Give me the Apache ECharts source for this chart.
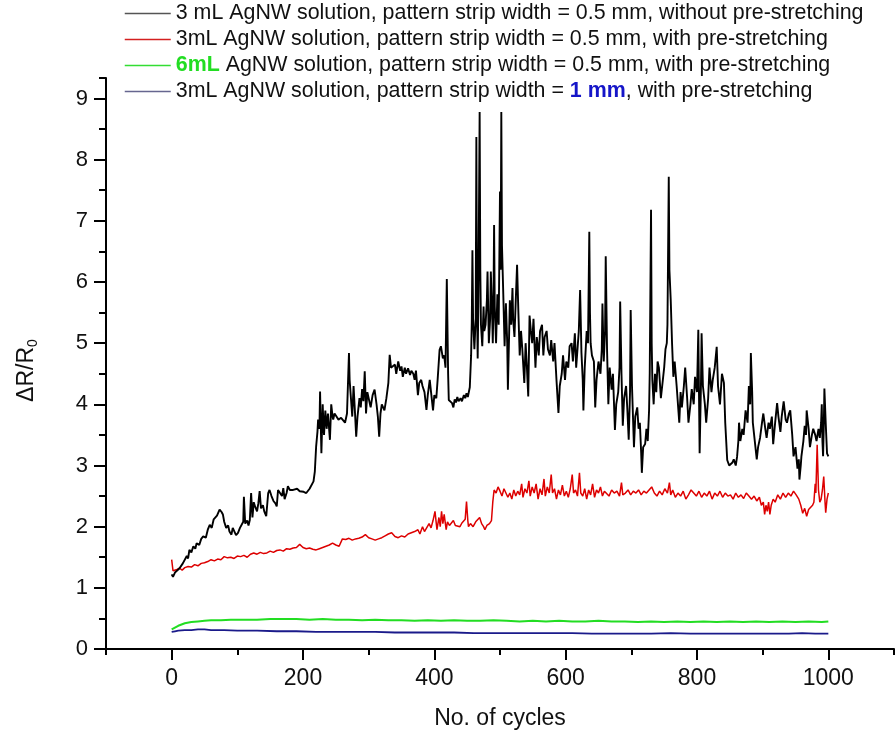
<!DOCTYPE html>
<html><head><meta charset="utf-8">
<script src="https://cdn.jsdelivr.net/npm/echarts@6/dist/echarts.min.js"></script>
<style>html,body{margin:0;padding:0;background:#fff}#c{width:896px;height:742px}</style>
</head><body><div id="c"></div>
<script>
// ---------- data ----------
const xTickValues = [0, 200, 400, 600, 800, 1000];
const xMinorTicks = [-100, 100, 300, 500, 700, 900, 1100];
const yTickValues = [0, 1, 2, 3, 4, 5, 6, 7, 8, 9];
const yMinorTicks = [0.5, 1.5, 2.5, 3.5, 4.5, 5.5, 6.5, 7.5, 8.5, 9.335];
const seriesNames = ['s1', 's2', 's3', 's4'];

const blackCycles = [0,2,5,8,12,15,17,20,23,25,27,30,33,36,38,42,45,48,52,55,58,61,64,66,69,71,73,76,78,80,83,86,88,91,93,95,98,101,104,107,109,110,112,115,117,119,121,123,125,127,130,132,134,136,139,141,144,147,149,152,155,158,160,162,165,168,170,172,175,177,180,183,185,188,191,195,198,201,205,208,210,213,216,218,220,222,223,225,226,228,230,231,232,234,236,238,241,243,245,246,248,251,254,258,261,264,267,270,271,273,275,277,279,281,283,286,288,290,292,294,296,298,301,303,306,309,312,314,316,318,320,322,324,327,330,332,334,337,340,342,345,348,350,352,355,357,360,363,365,368,370,372,375,377,380,382,385,388,390,393,395,398,400,403,405,408,410,413,415,417,419,421,422,425,427,429,431,433,435,437,440,442,445,447,449,451,454,456,457,458,459,461,463,464,465,466,467,469,470,471,473,475,476,478,480,481,483,485,486,488,489,490,491,492,494,496,498,500,501,502,503,505,507,509,511,512,514,515,517,519,520,522,524,526,528,530,532,534,537,539,541,543,545,547,549,551,554,556,559,561,564,566,568,571,573,576,578,581,583,586,589,591,594,596,599,601,604,606,609,611,614,616,618,620,622,624,626,627,629,632,634,636,637,638,640,643,645,647,650,653,655,656,658,660,661,663,665,667,670,672,675,677,680,682,683,685,687,689,692,694,696,698,699,701,704,706,709,711,713,715,716,718,721,723,725,727,728,730,731,732,734,736,738,740,742,745,747,750,752,754,755,757,758,760,762,764,766,769,771,773,775,777,780,782,785,787,790,792,795,797,800,802,803,804,806,807,809,812,814,817,819,822,824,827,830,832,835,838,841,843,846,849,851,854,856,859,861,863,864,866,869,871,874,877,879,881,882,884,885,888,891,893,896,899,901,904,906,909,911,914,916,919,922,924,927,929,932,935,937,940,942,945,947,950,953,955,956,958,959,962,964,966,967,970,972,975,977,980,982,985,987,989,990,991,992,993,994,996,998,1000];
const blackValues = [1.22,1.18,1.25,1.22,1.32,1.30,1.40,1.38,1.52,1.48,1.62,1.58,1.68,1.64,1.73,1.70,1.80,1.84,1.82,1.95,2.03,1.98,2.12,2.11,2.18,2.15,2.28,2.24,2.20,2.08,1.98,2.02,1.92,1.87,1.98,1.95,1.86,1.90,1.98,1.95,2.08,2.49,2.05,2.10,2.02,2.11,2.55,2.15,2.40,2.33,2.25,2.38,2.58,2.30,2.35,2.25,2.17,2.55,2.60,2.50,2.42,2.38,2.33,2.60,2.55,2.50,2.63,2.45,2.55,2.66,2.60,2.62,2.60,2.57,2.62,2.58,2.60,2.57,2.55,2.58,2.62,2.65,2.74,2.90,3.31,3.55,3.75,3.60,4.21,3.20,4.00,3.70,3.50,3.90,3.60,3.85,3.42,4.00,3.80,3.75,3.85,3.80,3.75,3.78,3.75,3.70,3.85,4.84,4.40,4.10,3.80,4.30,3.90,3.47,3.80,4.10,3.95,4.25,4.05,4.54,3.85,4.20,4.05,3.95,4.15,4.24,4.00,3.80,3.47,3.85,4.00,3.95,3.90,4.10,4.35,4.81,4.60,4.60,4.65,4.50,4.70,4.55,4.62,4.45,4.60,4.50,4.59,4.48,4.55,4.50,4.40,4.55,4.15,4.35,4.40,4.30,4.20,3.91,4.15,4.40,4.20,3.90,4.15,4.10,4.40,4.89,4.95,4.75,4.80,4.60,6.05,4.50,4.07,4.10,4.02,3.95,4.08,4.03,4.12,4.05,4.10,4.05,4.15,4.10,4.18,4.12,4.28,4.80,5.33,6.52,5.40,4.90,5.40,8.37,5.60,4.75,5.60,8.78,6.20,5.30,4.95,5.60,5.20,5.30,5.70,6.17,5.00,5.40,6.17,5.50,5.00,5.60,6.93,5.60,5.00,5.80,5.30,7.48,6.20,8.78,6.60,5.80,4.95,5.65,5.00,4.24,5.20,5.70,5.30,5.90,5.40,5.10,5.70,6.28,5.50,4.80,5.20,4.90,4.35,5.00,4.60,4.13,5.45,5.20,5.00,5.40,4.60,5.10,4.80,5.20,5.30,4.80,5.10,5.20,4.90,4.80,5.05,4.70,5.00,4.40,3.86,4.30,4.50,4.80,4.40,4.70,4.60,4.95,5.00,4.70,5.16,4.60,4.90,5.20,5.87,4.85,4.40,3.90,4.60,5.20,5.00,6.82,5.50,5.00,4.80,4.70,3.95,4.40,4.70,4.50,4.90,5.65,4.70,5.20,6.42,4.90,4.00,4.60,4.24,4.50,3.58,4.00,4.20,4.60,5.68,4.50,3.65,4.10,4.30,3.90,3.42,4.20,5.54,4.30,3.30,3.80,3.95,3.60,3.70,3.20,2.88,3.30,3.35,3.60,3.40,3.90,4.50,7.18,5.00,4.40,4.00,4.50,4.20,4.70,4.60,4.10,4.30,4.60,4.90,5.00,5.30,7.72,6.20,5.70,5.00,4.45,4.70,4.30,4.00,3.70,4.20,3.95,4.30,4.60,4.10,3.70,4.00,4.25,4.00,4.45,4.20,5.22,4.20,3.20,4.30,5.16,4.30,4.00,3.70,4.10,4.60,4.20,4.40,4.60,4.94,4.30,4.00,4.50,4.35,3.70,3.09,3.00,2.97,3.05,3.10,3.00,3.14,3.40,3.70,3.40,3.60,3.50,3.90,3.70,4.30,4.00,4.84,4.20,3.70,3.40,3.10,3.30,3.45,3.70,3.85,3.60,3.45,3.70,3.60,3.80,3.35,3.70,4.02,3.80,3.55,3.80,4.05,3.75,3.70,3.85,3.90,3.50,3.15,3.30,2.95,3.10,2.77,3.00,3.15,3.40,3.65,3.50,3.90,3.60,3.30,3.50,3.60,3.50,3.40,3.60,3.45,3.70,4.00,3.40,3.15,3.60,4.26,3.70,3.20,3.15];

const redCycles = [0,2,5,8,12,16,20,25,30,35,40,45,50,55,60,65,70,75,80,85,90,95,100,105,110,115,120,125,130,135,140,145,150,155,160,165,170,175,180,185,190,195,200,205,210,215,220,225,230,235,240,245,250,255,260,265,270,275,280,285,290,295,300,305,310,315,320,325,330,335,340,345,350,355,360,365,370,375,378,382,385,388,392,395,398,401,403,404,407,409,411,413,415,418,420,423,426,429,432,435,439,442,445,447,449,451,452,455,459,463,466,469,472,475,477,480,484,487,489,491,494,497,500,503,506,509,512,515,518,521,524,527,530,533,535,538,541,544,546,549,552,555,558,561,564,567,569,572,575,578,580,583,586,589,592,595,598,601,604,607,610,612,615,618,621,623,626,629,632,635,638,641,644,647,650,653,656,659,662,666,670,674,678,682,685,687,691,695,699,703,707,711,715,719,723,727,731,735,739,743,747,751,755,758,760,763,767,771,775,779,783,787,791,795,799,803,807,811,815,819,823,827,831,835,839,843,847,851,855,859,863,867,871,875,879,883,887,891,895,898,901,903,905,907,909,911,913,916,919,923,927,931,935,939,943,947,951,955,958,961,964,967,970,973,976,978,980,981,983,985,987,989,991,993,995,996,998,1000];
const redValues = [1.46,1.28,1.25,1.30,1.32,1.29,1.33,1.35,1.34,1.38,1.36,1.40,1.41,1.43,1.46,1.44,1.47,1.46,1.51,1.49,1.50,1.48,1.52,1.51,1.53,1.50,1.55,1.57,1.55,1.58,1.56,1.57,1.60,1.58,1.61,1.62,1.60,1.64,1.63,1.65,1.66,1.71,1.66,1.64,1.65,1.63,1.62,1.64,1.66,1.68,1.70,1.73,1.70,1.68,1.80,1.79,1.81,1.78,1.80,1.81,1.83,1.87,1.82,1.80,1.78,1.80,1.82,1.85,1.88,1.90,1.84,1.82,1.85,1.83,1.88,1.90,1.92,1.95,1.88,2.00,1.92,1.95,2.05,1.98,2.10,2.25,2.05,1.95,2.15,2.00,2.25,2.05,2.20,1.95,2.08,2.02,2.05,2.10,2.02,2.05,2.00,2.06,2.03,2.12,2.41,2.10,2.00,2.05,2.00,2.08,2.05,2.15,2.05,2.00,1.95,2.02,2.05,2.10,2.40,2.60,2.55,2.65,2.58,2.50,2.62,2.55,2.48,2.55,2.45,2.60,2.50,2.58,2.52,2.70,2.48,2.62,2.55,2.75,2.50,2.65,2.55,2.70,2.45,2.62,2.52,2.78,2.50,2.65,2.55,2.85,2.55,2.62,2.45,2.60,2.52,2.68,2.50,2.58,2.48,2.62,2.85,2.55,2.60,2.50,2.88,2.55,2.50,2.62,2.45,2.60,2.52,2.70,2.48,2.60,2.55,2.65,2.50,2.58,2.55,2.50,2.60,2.55,2.58,2.50,2.72,2.52,2.55,2.60,2.52,2.58,2.55,2.60,2.52,2.58,2.55,2.60,2.65,2.55,2.50,2.58,2.52,2.62,2.55,2.72,2.52,2.60,2.48,2.55,2.50,2.58,2.45,2.52,2.60,2.55,2.50,2.58,2.48,2.55,2.50,2.58,2.45,2.55,2.50,2.58,2.48,2.55,2.50,2.52,2.45,2.55,2.48,2.52,2.46,2.55,2.50,2.45,2.50,2.42,2.48,2.35,2.40,2.20,2.35,2.25,2.40,2.20,2.35,2.45,2.40,2.52,2.45,2.55,2.48,2.55,2.50,2.58,2.52,2.45,2.35,2.22,2.30,2.17,2.28,2.30,2.35,2.40,2.70,2.55,3.34,2.60,2.40,2.45,2.60,2.82,2.40,2.23,2.45,2.55];

const greenCycles = [0,5,10,15,20,30,40,50,60,75,90,110,130,150,170,190,210,230,250,270,290,310,330,350,370,390,410,430,450,470,490,510,530,550,570,590,610,630,650,670,690,710,730,750,770,790,810,830,850,870,890,910,930,950,970,990,1000];
const greenValues = [0.32,0.35,0.38,0.40,0.42,0.44,0.45,0.46,0.47,0.47,0.48,0.48,0.48,0.49,0.49,0.49,0.48,0.49,0.48,0.48,0.47,0.48,0.47,0.47,0.46,0.47,0.46,0.47,0.46,0.46,0.47,0.46,0.45,0.46,0.45,0.46,0.45,0.45,0.46,0.45,0.45,0.44,0.45,0.44,0.45,0.44,0.45,0.44,0.45,0.44,0.45,0.44,0.45,0.44,0.45,0.44,0.45];

const blueCycles = [0,5,10,20,30,40,50,60,80,100,130,160,190,220,250,280,310,340,370,400,430,460,490,520,550,580,610,640,670,700,730,760,790,820,850,880,910,940,960,980,1000];
const blueValues = [0.28,0.29,0.30,0.31,0.31,0.32,0.32,0.31,0.31,0.30,0.30,0.29,0.29,0.28,0.28,0.28,0.28,0.27,0.27,0.27,0.27,0.26,0.26,0.26,0.26,0.26,0.26,0.25,0.25,0.25,0.25,0.26,0.25,0.25,0.25,0.25,0.25,0.25,0.26,0.25,0.25];

// ---------- chart ----------
const zip = (xs, ys) => xs.map((x, i) => [x, ys[i]]);
const FONT = '"Liberation Sans", Arial, sans-serif';
const axisCol = '#000';
const hidden = {color: 'rgba(0,0,0,0)', borderWidth: 0, opacity: 0};

const legendText = {
  s1: '3 mL AgNW solution, pattern strip width = 0.5 mm, without pre-stretching',
  s2: '3mL AgNW solution, pattern strip width = 0.5 mm, with pre-stretching',
  s3: '{g|6mL} AgNW solution, pattern strip width = 0.5 mm, with pre-stretching',
  s4: '3mL AgNW solution, pattern strip width = {b|1 mm}, with pre-stretching'
};

const chart = echarts.init(document.getElementById('c'), null, {renderer: 'canvas'});
chart.setOption({
  backgroundColor: '#fff',
  animation: false,
  grid: {left: 106, right: 2, top: 78, bottom: 93, containLabel: false},
  legend: {
    orient: 'vertical', left: 119, top: -2,
    itemWidth: 46, itemHeight: 21, itemGap: 5,
    data: [
      {name: 's1', lineStyle: {color: '#555', width: 1.5}, itemStyle: hidden},
      {name: 's2', lineStyle: {color: '#d42020', width: 1.5}, itemStyle: hidden},
      {name: 's3', lineStyle: {color: '#33dd33', width: 1.5}, itemStyle: hidden},
      {name: 's4', lineStyle: {color: '#66668f', width: 1.5}, itemStyle: hidden}
    ],
    formatter: n => legendText[n],
    textStyle: {
      fontFamily: FONT, fontSize: 21.4, color: '#111', lineHeight: 21,
      rich: {
        g: {fontFamily: FONT, fontSize: 21.4, lineHeight: 21, color: '#22dd22', fontWeight: 'bold'},
        b: {fontFamily: FONT, fontSize: 21.4, lineHeight: 21, color: '#1515c8', fontWeight: 'bold'}
      }
    }
  },
  xAxis: [{
    type: 'value', position: 'bottom', min: -100, max: 1100,
    name: 'No. of cycles', nameLocation: 'middle', nameGap: 58,
    nameTextStyle: {fontFamily: FONT, fontSize: 23, color: '#111'},
    axisLine: {show: true, onZero: false, lineStyle: {color: axisCol, width: 2}},
    axisTick: {show: true, inside: false, length: 11, customValues: xTickValues, lineStyle: {color: axisCol, width: 2}},
    axisLabel: {customValues: xTickValues, margin: 18, fontFamily: FONT, fontSize: 23, color: '#111',
      formatter: v => String(v)},
    splitLine: {show: false}
  }, {
    type: 'value', position: 'bottom', min: -100, max: 1100,
    axisLine: {show: false, onZero: false},
    axisTick: {show: true, inside: false, length: 6, customValues: xMinorTicks, lineStyle: {color: axisCol, width: 2}},
    axisLabel: {show: false},
    splitLine: {show: false}
  }],
  yAxis: [{
    type: 'value', position: 'left', min: 0, max: 9.335,
    name: 'ΔR/R{s|0}', nameLocation: 'middle', nameGap: 66, nameRotate: 90,
    nameTextStyle: {fontFamily: FONT, fontSize: 23, color: '#111', padding: [0, 14, 0, 0],
      rich: {s: {fontFamily: FONT, fontSize: 14, color: '#111', verticalAlign: 'bottom', padding: [13, 0, 0, 0]}}},
    axisLine: {show: true, onZero: false, lineStyle: {color: axisCol, width: 2}},
    axisTick: {show: true, inside: false, length: 12, customValues: yTickValues, lineStyle: {color: axisCol, width: 2}},
    axisLabel: {customValues: yTickValues, margin: 18, fontFamily: FONT, fontSize: 22, color: '#111'},
    splitLine: {show: false}
  }, {
    type: 'value', position: 'left', min: 0, max: 9.335,
    axisLine: {show: false, onZero: false},
    axisTick: {show: true, inside: false, length: 7, customValues: yMinorTicks, lineStyle: {color: axisCol, width: 2}},
    axisLabel: {show: false},
    splitLine: {show: false}
  }],
  series: [
    {name: 's1', type: 'line', data: zip(blackCycles, blackValues), showSymbol: false, symbol: 'none', z: 4,
     lineStyle: {color: '#000', width: 1.9}, itemStyle: {color: '#000'}},
    {name: 's2', type: 'line', data: zip(redCycles, redValues), showSymbol: false, symbol: 'none', z: 3,
     lineStyle: {color: '#dd0000', width: 1.5}, itemStyle: {color: '#dd0000'}},
    {name: 's3', type: 'line', data: zip(greenCycles, greenValues), showSymbol: false, symbol: 'none', z: 2,
     lineStyle: {color: '#22dd22', width: 2}, itemStyle: {color: '#22dd22'}},
    {name: 's4', type: 'line', data: zip(blueCycles, blueValues), showSymbol: false, symbol: 'none', z: 2,
     lineStyle: {color: '#1a1a8a', width: 1.8}, itemStyle: {color: '#1a1a8a'}}
  ]
});
</script></body></html>
